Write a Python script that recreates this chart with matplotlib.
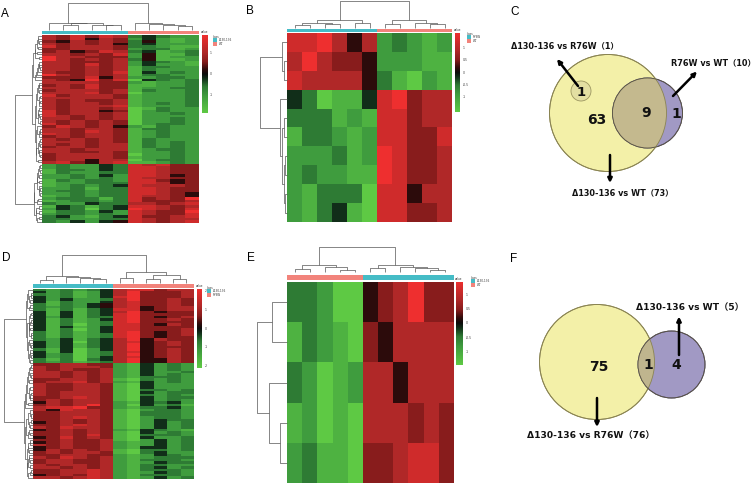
import numpy as np
import matplotlib
matplotlib.use("Agg")
import matplotlib.pyplot as plt
from matplotlib.colors import LinearSegmentedColormap, ListedColormap
from matplotlib.patches import Circle, Rectangle

# ---------------- data (levels 0..9: 0 = lowest/green, 9 = highest/red) -------------
A_rows = [
    "76868734322", "65767635212", "77666724321", "86777633211", "97766625122",
    "97676735112", "76857624212", "67568734123", "77676825113", "76767534222",
    "66777623312", "77686724221", "76676814232", "77776621223", "68767521322",
    "76767613222", "77677712332", "67686611223", "76776701322", "77667612232",
    "67757702332", "86777612223", "77676713322", "67777602232", "76766712223",
    "77677613322", "86776702232", "77687612322", "67776713223", "76767602232",
    "97676713322", "77777612223", "86767602332", "77676713222", "67777612232",
    "76776712323", "87676702222", "77767613232", "67677612322", "77786702223",
    "76767713232", "87677612322", "77676702232", "76777812223", "67767713232",
    "86775602322", "77686612233", "66685722332", "76596804323", "78657811232",
    "23224387866", "12323487776", "22313388766", "13324388766", "22323388765",
    "13233288656", "23224388766", "12323387765", "22324288756", "13223388766",
    "22323287766", "12233388756", "23323388766", "14313488767", "24303498768",
    "13324287669", "34213486678", "32424587678", "23331386769", "32243377678",
    "23323287668", "12332386667", "33223387677",
]
A_groups = ["Δ130-136"] * 6 + ["WT"] * 5
A_vmax = 1.9
A_ticks = [1, 0, -1]
# column dendrogram: [merge height, left, right], leaves = column index
A_ctree = [1.0, [0.27, 0, [0.25, [0.17, 1, 2], [0.2, 3, [0.17, 4, 5]]]],
           [0.27, 6, [0.24, 7, [0.2, 8, [0.15, 9, 10]]]]]

B_rows = [
    "889757" "23212",
    "797665" "22211",
    "877775" "31021",
    "430114" "89677",
    "333121" "88677",
    "133212" "88668",
    "222312" "98667",
    "232211" "98667",
    "213330" "88577",
    "213410" "88667",
]
B_groups = ["R76W"] * 6 + ["WT"] * 5
B_vmax = 1.6
B_ticks = [1, 0.5, 0, -0.5, -1]
B_ctree = [1.0, [0.29, [0.2, [0.12, 0, 1], [0.15, 2, 3]], [0.18, 4, 5]],
           [0.29, [0.15, 6, 7], [0.2, 8, [0.14, 9, 10]]]]
B_rtree = [1.0, [0.19, 0, [0.1, 1, 2]],
           [0.25, 3, [0.18, [0.1, 4, 5], [0.12, [0.06, 6, 7], [0.08, 8, 9]]]]]

D_rows = [
    "323234788677", "313245786676", "423124796667", "313134885677", "424223796676",
    "414134796566", "323245785677", "413124896676", "324134795766", "413224786676",
    "424133896567", "314024795676", "413123896666", "424034785676", "313124896567",
    "423023795676", "414124886666", "313034795576", "423124896667", "414023785676",
    "313123896566", "424134795676", "413024886667", "323123795576", "414134896666",
    "423024785676", "313123896567", "424134795666", "413023886576", "323124796667",
    "667766214232", "758776102332", "567676214321", "667767103232", "576776214342",
    "667667102423", "767776214232", "576767103323", "667766212432", "766776104222",
    "677667213332", "767776104233", "567667212423", "667776103332", "776767214223",
    "667676102433", "767767213322", "676776104232", "767667212423", "667776103332",
    "776767214232", "567676102423", "667787213332", "766776104222", "677667212433",
    "767776103232", "567667214423", "667876102332", "776767213423", "667676104232",
    "768767212333", "676776103422", "767667214232", "667876102423", "776767213332",
    "568676104223", "667787212432", "766776103323", "677867214232", "768776102423",
    "567687213332", "667876104233", "776787212423", "667686103332", "788966213342",
    "676796204231",
]
D_groups = ["Δ130-136"] * 6 + ["R76W"] * 6
D_vmax = 2.1
D_ticks = [2, 1, 0, -1, -2]
D_ctree = [1.0, [0.26, [0.12, 0, 1], [0.2, 2, [0.18, 3, [0.14, 4, 5]]]],
           [0.41, [0.18, 6, 7], [0.29, [0.16, 8, 9], [0.16, 10, 11]]]]

E_rows = [
    "33200" "567966",
    "13210" "657777",
    "32012" "775777",
    "12010" "777676",
    "23110" "667886",
]
E_groups = ["WT"] * 5 + ["Δ130-136"] * 6
E_vmax = 1.45
E_ticks = [1, 0.5, 0, -0.5, -1]
E_ctree = [1.0, [0.3, [0.12, 0, 1], [0.2, 2, [0.1, 3, 4]]],
           [0.3, [0.15, 5, 6], [0.22, 7, [0.15, 8, [0.1, 9, 10]]]]]
E_rtree = [1.0, [0.5, 0, 1], [0.61, 2, [0.24, 3, 4]]]

C_labels = ["Δ130-136 vs R76W（1）", "R76W vs WT（10）", "Δ130-136 vs WT（73）"]
C_counts = [1, 63, 9, 1]
F_labels = ["Δ130-136 vs WT（5）", "Δ130-136 vs R76W（76）"]
F_counts = [75, 1, 4]

# ---------------- styles ---------------------------------------------------------------
W, H = 754, 484
fig = plt.figure(figsize=(W / 100, H / 100), dpi=100)
fig.patch.set_facecolor("white")
cmap = LinearSegmentedColormap.from_list(
    "gbr", [(0.0, "#5ec944"), (0.22, "#3f9c3e"), (0.34, "#2e7a34"), (0.44, "#12301a"),
            (0.5, "#0c0c0c"), (0.56, "#2e0b0b"), (0.66, "#861c1c"), (0.78, "#b02828"),
            (1.0, "#ee2f2f")])
CYAN, SALMON = "#45bcc6", "#f2837b"
DCOL = "#555555"
LABFONT = ["DejaVu Sans", "Noto Sans CJK SC"]


def px_axes(x0, y0, x1, y1):
    ax = fig.add_axes([x0 / W, 1 - y1 / H, (x1 - x0) / W, (y1 - y0) / H])
    ax.set_axis_off()
    return ax


def decode(rows, vmax):
    return np.array([[(int(c) - 4.5) / 4.5 * vmax for c in r] for r in rows])


def tree_segs(tree):
    segs = []

    def rec(n):
        if isinstance(n, int):
            return n + 0.5, 0.0
        h, l, r = n
        xl, hl = rec(l)
        xr, hr = rec(r)
        segs.append(([xl, xl, xr, xr], [hl, h, h, hr]))
        return (xl + xr) / 2, h

    rec(tree)
    return segs, tree[0]


def hclust(X):
    """complete-linkage clustering; returns leaf order, segments, root height"""
    n = len(X)
    D = np.sqrt(((X[:, None, :] - X[None, :, :]) ** 2).sum(-1))
    M = np.full((2 * n, 2 * n), np.inf)
    M[:n, :n] = D
    np.fill_diagonal(M, np.inf)
    nodes = {i: ("leaf", i) for i in range(n)}
    minidx = {i: i for i in range(n)}
    active = list(range(n))
    nid = n
    while len(active) > 1:
        sub = M[np.ix_(active, active)]
        k = int(np.argmin(sub))
        a, b = active[k // len(active)], active[k % len(active)]
        h = M[a, b]
        l, r = (a, b) if minidx[a] < minidx[b] else (b, a)
        nodes[nid] = ("node", h, l, r)
        minidx[nid] = min(minidx[a], minidx[b])
        for c in active:
            if c not in (a, b):
                M[nid, c] = M[c, nid] = max(M[a, c], M[b, c])
        active.remove(a)
        active.remove(b)
        active.append(nid)
        nid += 1
    root = active[0]
    order, segs = [], []

    def rec(i):
        nd = nodes[i]
        if nd[0] == "leaf":
            order.append(nd[1])
            return len(order) - 0.5, 0.0
        _, hh, l, r = nd
        xl, hl = rec(l)
        xr, hr = rec(r)
        segs.append(([xl, xl, xr, xr], [hl, hh, hh, hr]))
        return (xl + xr) / 2, hh

    rec(root)
    return order, segs, nodes[root][1]


def heat_panel(rows, groups, vmax, ticks, ctree, rtree, heat, top, annot, left, cbar,
               legend_xy, names):
    X = decode(rows, vmax)
    nr, nc = X.shape
    if rtree is None:
        rorder, rsegs, rmax = hclust(X)
    else:
        rorder = list(range(nr))
        rsegs, rmax = tree_segs(rtree)
    csegs, cmax = tree_segs(ctree)
    Xo = X[rorder, :]
    ax = px_axes(*heat)
    ax.imshow(Xo, cmap=cmap, vmin=-vmax, vmax=vmax, aspect="auto",
              interpolation="nearest", extent=(0, nc, nr, 0))
    ax.set_xlim(0, nc)
    ax.set_ylim(nr, 0)
    at = px_axes(*top)
    for xs, hs in csegs:
        at.plot(xs, hs, color=DCOL, lw=0.5, clip_on=False, solid_capstyle="butt")
    at.set_xlim(0, nc)
    at.set_ylim(0, cmax)
    al = px_axes(*left)
    for ys, hs in rsegs:
        al.plot(hs, ys, color=DCOL, lw=0.5, clip_on=False, solid_capstyle="butt")
    al.set_xlim(rmax, 0)
    al.set_ylim(nr, 0)
    aa = px_axes(*annot)
    gidx = [[0 if g == names[0] else 1 for g in groups]]
    aa.imshow(gidx, cmap=ListedColormap([CYAN, SALMON]), vmin=0, vmax=1,
              aspect="auto", interpolation="nearest", extent=(0, nc, 1, 0))
    ac = px_axes(*cbar)
    ac.imshow(np.linspace(vmax, -vmax, 200)[:, None], cmap=cmap, vmin=-vmax, vmax=vmax,
              aspect="auto", extent=(0, 1, -vmax, vmax))
    ac.set_xlim(0, 1)
    ac.set_ylim(-vmax, vmax)
    for t in ticks:
        ac.text(1.6, t, f"{t:g}", fontsize=2.2, va="center", ha="left", color="#333333",
                clip_on=False)
    ac.text(0.5, vmax * 1.03, "value", fontsize=2.0, ha="center", va="bottom",
            color="#333333", clip_on=False)
    lx, ly = legend_xy
    ov.text(lx, ly, "class", fontsize=2.0, va="top", ha="left", color="#333333")
    for i, (nm, col) in enumerate(zip(names, [CYAN, SALMON])):
        ov.add_patch(Rectangle((lx, ly + 3 + i * 4), 4, 3.5, facecolor=col, edgecolor="none"))
        ov.text(lx + 5.5, ly + 4.8 + i * 4, nm, fontsize=2.0, va="center", ha="left",
                color="#333333", family=LABFONT)


ov = fig.add_axes([0, 0, 1, 1], zorder=5)
ov.set_xlim(0, W)
ov.set_ylim(H, 0)
ov.set_axis_off()

heat_panel(A_rows, A_groups, A_vmax, A_ticks, A_ctree, None,
           heat=(42, 35, 199, 223), top=(42, 3, 199, 30), annot=(42, 31, 199, 34),
           left=(15, 35, 42, 223), cbar=(202, 35, 207, 113), legend_xy=(213, 35),
           names=["Δ130-136", "WT"])
heat_panel(B_rows, B_groups, B_vmax, B_ticks, B_ctree, B_rtree,
           heat=(287, 33, 452, 222), top=(287, 0.5, 452, 28), annot=(287, 28.5, 452, 32),
           left=(260, 33, 287, 222), cbar=(455, 33, 460, 112), legend_xy=(467, 32),
           names=["R76W", "WT"])
heat_panel(D_rows, D_groups, D_vmax, D_ticks, D_ctree, None,
           heat=(33, 289, 193, 479), top=(33, 255, 193, 283), annot=(33, 284, 193, 288),
           left=(4, 289, 33, 479), cbar=(197, 289, 202, 368), legend_xy=(207, 286),
           names=["Δ130-136", "R76W"])
heat_panel(E_rows, E_groups, E_vmax, E_ticks, E_ctree, E_rtree,
           heat=(287, 282, 453, 483), top=(287, 247, 453, 272), annot=(287, 275, 453, 280),
           left=(257, 282, 287, 483), cbar=(456, 282, 462, 365), legend_xy=(471, 276),
           names=["Δ130-136", "WT"])

for letter, (x, y) in zip("ABCDEF", [(1, 8), (246, 5), (510, 6), (2, 252), (247, 252), (510, 253)]):
    ov.text(x, y, letter, fontsize=8.5, ha="left", va="top", family="Liberation Sans")

# ---------------- Venn C ----------------------------------------------------------------
YEL, YEDGE = "#f3f0a8", "#8a8452"
PUR = "#a199c4"
ov.add_patch(Circle((608, 113), 58.5, facecolor=YEL, edgecolor=YEDGE, lw=0.7, zorder=1))
ov.add_patch(Circle((647.5, 113), 35, facecolor=PUR, edgecolor="#4b4470", lw=0.7, zorder=2))
ovl = Circle((647.5, 113), 35, facecolor="#c4b98e", edgecolor="none", zorder=3)
ov.add_patch(ovl)
ovl.set_clip_path(Circle((608, 113), 58.5, transform=ov.transData))
ov.add_patch(Circle((647.5, 113), 35, facecolor="none", edgecolor="#5c5640", lw=0.6, zorder=4))
ov.add_patch(Circle((608, 113), 58.5, facecolor="none", edgecolor=YEDGE, lw=0.6, zorder=4))
ov.add_patch(Circle((581, 91), 10, facecolor="#e3dfa2", edgecolor="#9c9660", lw=0.6, zorder=4))

numkw = dict(fontsize=10, fontweight="bold", ha="center", va="center", color="#111111", zorder=6)
ov.text(581, 92, str(C_counts[0]), **{**numkw, "fontsize": 9.5})
ov.text(597, 120, str(C_counts[1]), **numkw)
ov.text(646, 113, str(C_counts[2]), **numkw)
ov.text(676.5, 114, str(C_counts[3]), **numkw)

labkw = dict(fontsize=5.9, fontweight="bold", ha="center", va="center", color="#111111",
             family=LABFONT, zorder=6)
ov.text(565, 46, C_labels[0], **labkw)
ov.text(713, 63, C_labels[1], **labkw)
ov.text(623, 193, C_labels[2], **labkw)

arrkw = dict(arrowstyle="-|>", lw=1.8, color="black", mutation_scale=6, shrinkA=0, shrinkB=0)
ov.annotate("", xy=(557, 59), xytext=(578, 86), arrowprops=arrkw, zorder=7)
ov.annotate("", xy=(697, 71.5), xytext=(673, 96), arrowprops=arrkw, zorder=7)
ov.annotate("", xy=(610, 183), xytext=(610, 155), arrowprops=arrkw, zorder=7)

# ---------------- Venn F ----------------------------------------------------------------
ov.add_patch(Circle((597, 362), 57.5, facecolor=YEL, edgecolor=YEDGE, lw=0.7, zorder=1))
ov.add_patch(Circle((671.5, 364.5), 33.5, facecolor=PUR, edgecolor="#4b4470", lw=0.7, zorder=2))
ovl2 = Circle((671.5, 364.5), 33.5, facecolor="#bfb58e", edgecolor="none", zorder=3)
ov.add_patch(ovl2)
ovl2.set_clip_path(Circle((597, 362), 57.5, transform=ov.transData))
ov.add_patch(Circle((597, 362), 57.5, facecolor="none", edgecolor=YEDGE, lw=0.6, zorder=4))
ov.add_patch(Circle((671.5, 364.5), 33.5, facecolor="none", edgecolor="#5c5640", lw=0.6, zorder=4))

ov.text(598.5, 367, str(F_counts[0]), **numkw)
ov.text(648.5, 365, str(F_counts[1]), **numkw)
ov.text(676, 365, str(F_counts[2]), **numkw)

labkwF = {**labkw, "fontsize": 6.6}
ov.text(690, 308, F_labels[0], **labkwF)
ov.text(590.5, 436, F_labels[1], **labkwF)
ov.annotate("", xy=(679, 316.5), xytext=(679, 355), arrowprops=arrkw, zorder=7)
ov.annotate("", xy=(597, 427), xytext=(597, 398), arrowprops=arrkw, zorder=7)

fig.savefig("out.png", dpi=100, facecolor="white")
